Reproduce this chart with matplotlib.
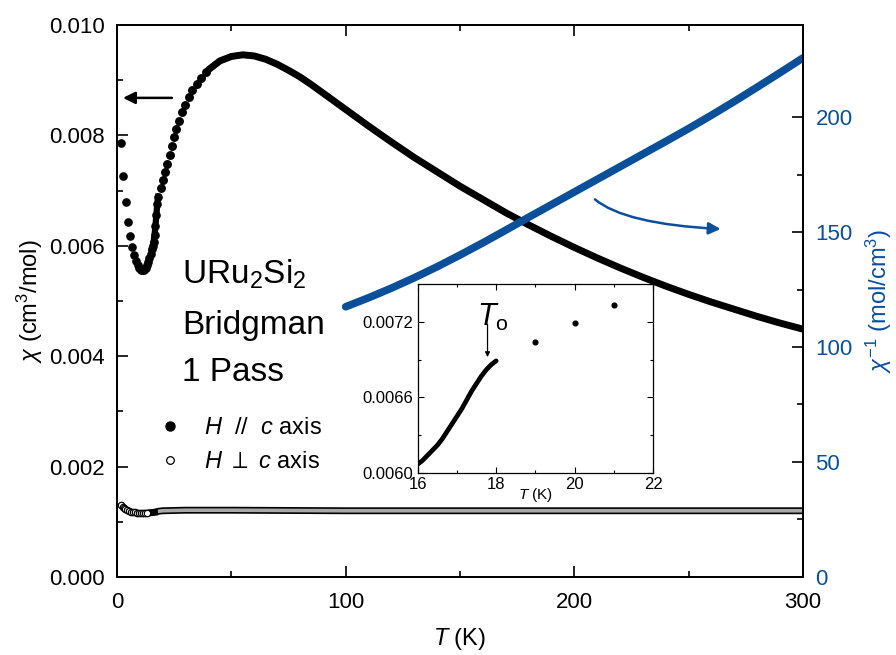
import numpy as np
import matplotlib.pyplot as plt
from matplotlib.lines import Line2D
import matplotlib.patheffects as pe

plt.rcParams['font.family'] = ['Liberation Sans', 'DejaVu Sans']
plt.rcParams['mathtext.fontset'] = 'custom'
plt.rcParams['mathtext.rm'] = 'Liberation Sans'
plt.rcParams['mathtext.it'] = 'Liberation Sans:italic'
plt.rcParams['mathtext.fallback'] = 'stixsans'

BLUE = '#0a4f9a'

# H // c, low temperature points (K, cm3/mol)
T_c_low = [1.8, 2.8, 3.8, 4.8, 5.7, 6.7, 7.6, 8.3, 9.0, 9.7, 10.4, 11.1, 11.8,
           12.5, 13.1, 13.7, 14.2, 14.7, 15.2, 15.6, 16.0, 16.4, 16.8, 17.2,
           17.6, 18.0]
chi_c_low = [0.00787, 0.00727, 0.00679, 0.00644, 0.00618, 0.00598, 0.00583,
             0.00572, 0.00565, 0.00560, 0.00557, 0.00556, 0.00557, 0.00560,
             0.00565, 0.00570, 0.00578, 0.00586, 0.00594, 0.00600, 0.00607,
             0.00619, 0.00636, 0.00655, 0.00676, 0.00689]
# H // c, sparse points above the transition
T_c_mid = [19.1, 20.1, 21.1, 22.0, 23.0, 24.0, 25.0, 26.0, 27.1, 28.4, 29.8,
           31.3, 33.0, 34.8, 36.8, 39.0]
chi_c_mid = [0.00704, 0.00719, 0.00733, 0.00748, 0.00764, 0.00780, 0.00797,
             0.00812, 0.00827, 0.00842, 0.00856, 0.00869, 0.00882, 0.00893,
             0.00904, 0.00914]
# H // c, dense data
T_c_hi = [40, 45, 50, 55, 60, 65, 70, 75, 80, 85, 90, 95, 100, 110, 120, 130,
          140, 150, 160, 170, 180, 190, 200, 210, 220, 230, 240, 250, 260, 270,
          280, 290, 300]
chi_c_hi = [0.00919, 0.00935, 0.00943, 0.00946, 0.00944, 0.00938, 0.00929,
            0.00918, 0.00906, 0.00892, 0.00877, 0.00862, 0.00847, 0.00817,
            0.00788, 0.00760, 0.00734, 0.00708, 0.00684, 0.00660, 0.00638,
            0.00617, 0.00597, 0.00578, 0.00560, 0.00543, 0.00527, 0.00512,
            0.00498, 0.00485, 0.00472, 0.00460, 0.00449]

# inverse susceptibility (mol/cm3)
T_inv = [100, 110, 120, 130, 140, 150, 160, 170, 180, 190, 200, 210, 220, 230,
         240, 250, 260, 270, 280, 290, 300]
chi_inv = [117.5, 121.4, 125.6, 130.1, 134.9, 140.0, 145.3, 150.8, 156.4,
           161.9, 167.4, 172.9, 178.4, 183.9, 189.4, 195.0, 200.8, 206.8,
           213.0, 219.3, 225.7]

# H perp c
T_ab_low = [1.8, 2.4, 3.0, 3.7, 4.4, 5.2, 6.0, 6.9, 7.8, 8.7, 9.6, 10.5, 11.4,
            12.3, 13.2]
chi_ab_low = [0.00130, 0.00127, 0.00125, 0.00123, 0.00121, 0.00120, 0.00118,
              0.00117, 0.00117, 0.00116, 0.00116, 0.00116, 0.00116, 0.00116,
              0.00116]
T_ab_hi = [14, 16, 18, 20, 30, 50, 100, 150, 200, 250, 300]
chi_ab_hi = [0.00116, 0.00117, 0.00119, 0.00120, 0.00121, 0.00121, 0.00120,
             0.00120, 0.00120, 0.00120, 0.00120]

# inset
T_in = [16.0, 16.125, 16.25, 16.375, 16.5, 16.625, 16.75, 16.875, 17.0, 17.125,
        17.25, 17.375, 17.5, 17.625, 17.75, 17.875, 18.0]
chi_in = [0.00607, 0.00610, 0.00614, 0.00618, 0.00622, 0.00627, 0.00633,
          0.00639, 0.00645, 0.00651, 0.00658, 0.00665, 0.00671, 0.00677,
          0.00682, 0.00686, 0.00689]
T_in_pts = [19, 20, 21]
chi_in_pts = [0.00704, 0.00719, 0.00733]

fig = plt.figure(figsize=(8.96, 6.55), dpi=100)
ax = fig.add_axes([0.1306, 0.1191, 0.7656, 0.8427])
ax2 = ax.twinx()

# perpendicular band
ax.plot(T_ab_hi, chi_ab_hi, color='#a8a8a8', lw=2.6, solid_capstyle='round',
        path_effects=[pe.Stroke(linewidth=5.0, foreground='black'), pe.Normal()])
ax.plot([13.0, 16.5], [0.00116, 0.00117], color='black', lw=4.6)
ax.plot(T_ab_low, chi_ab_low, 'o', ms=4.6, mfc='white', mec='black', mew=0.9)

# parallel
ax.plot(T_c_low, chi_c_low, 'o', ms=5.2, color='black')
ax.plot(T_c_low[-8:], chi_c_low[-8:], '-', lw=4.5, color='black')
ax.plot(T_c_mid, chi_c_mid, 'o', ms=5.4, color='black')
ax.plot(T_c_hi, chi_c_hi, '-', lw=5.0, color='black', solid_capstyle='round')

ax2.plot(T_inv, chi_inv, '-', lw=5.5, color=BLUE, solid_capstyle='round')

ax.set_xlim(0, 300)
ax.set_ylim(0, 0.010)
ax2.set_ylim(0, 240)
ax.set_xticks([0, 100, 200, 300])
ax.set_xticks([50, 150, 250], minor=True)
ax.set_yticks(np.arange(0, 0.0101, 0.002))
ax.set_yticks(np.arange(0.001, 0.010, 0.002), minor=True)
ax.set_yticklabels(['0.000', '0.002', '0.004', '0.006', '0.008', '0.010'])
ax2.set_yticks([0, 50, 100, 150, 200])
ax2.set_yticks([25, 75, 125, 175, 225], minor=True)

for a in (ax, ax2):
    for s in a.spines.values():
        s.set_linewidth(1.4)
ax.tick_params(which='both', direction='in', labelsize=16, width=1.2, top=True)
ax.tick_params(which='major', length=8, pad=9)
ax.tick_params(which='minor', length=4.5)
ax.tick_params(axis='x', which='major', pad=11)
ax2.tick_params(which='both', direction='in', labelsize=16, width=1.2,
                labelcolor=BLUE, color='black')
ax2.tick_params(which='major', length=8, pad=9)
ax2.tick_params(which='minor', length=4.5)

ax.set_xlabel('$T$ (K)', fontsize=17, labelpad=9)
ax.set_ylabel(r'$\chi$ (cm$^3$/mol)', fontsize=17, labelpad=3)
ax2.set_ylabel(r'$\chi^{-1}$ (mol/cm$^3$)', fontsize=17, color=BLUE,
               rotation=90, labelpad=8)

ax.text(28.4, 0.00531, 'URu$_2$Si$_2$', fontsize=24, va='baseline')
ax.text(28.4, 0.00441, 'Bridgman', fontsize=24, va='baseline')
ax.text(28.4, 0.00355, '1 Pass', fontsize=24, va='baseline')

ax.legend([Line2D([], [], ls='none', marker='o', ms=6.5, color='black'),
           Line2D([], [], ls='none', marker='o', ms=5.5, mfc='white', mec='black', mew=0.9)],
          ['$H$  //  $c$ axis', r'$H$ $\perp$ $c$ axis'],
          loc='upper left', bbox_to_anchor=(0.0615, 0.289), frameon=False,
          fontsize=17, handlelength=0.9, handletextpad=1.0, labelspacing=0.5,
          borderpad=0, borderaxespad=0)

ax.annotate('', xy=(2.6, 0.00868), xytext=(24, 0.00868),
            arrowprops=dict(arrowstyle='-|>', color='black', lw=1.8,
                            mutation_scale=18, shrinkA=0, shrinkB=0))
ax2.annotate('', xy=(264, 151.3), xytext=(209, 164.2),
             arrowprops=dict(arrowstyle='-|>', color=BLUE, lw=1.8,
                             mutation_scale=18, shrinkA=0, shrinkB=0,
                             connectionstyle='angle3,angleA=-40,angleB=-3'))

# inset
axi = fig.add_axes([0.4662, 0.2779, 0.2626, 0.2885])
axi.plot(T_in, chi_in, '-', lw=3.4, color='black', solid_capstyle='round')
axi.plot(T_in_pts, chi_in_pts, 'o', ms=3.4, color='black')
axi.set_xlim(16, 22)
axi.set_ylim(0.0060, 0.0075)
axi.set_xticks([16, 18, 20, 22])
axi.set_xticks([17, 19, 21], minor=True)
axi.set_yticks([0.0060, 0.0066, 0.0072])
axi.set_yticks([0.0063, 0.0069, 0.0075], minor=True)
axi.set_yticklabels(['0.0060', '0.0066', '0.0072'])
for s in axi.spines.values():
    s.set_linewidth(0.9)
axi.tick_params(which='both', direction='in', top=True, right=True, labelsize=12,
                width=0.8, pad=3)
axi.tick_params(which='major', length=4)
axi.tick_params(which='minor', length=2.5)
axi.set_xlabel('$T$ (K)', fontsize=11)
axi.xaxis.set_label_coords(0.5, -0.07)
axi.text(17.5, 0.00717, '$T_{\\mathrm{o}}$', fontsize=22)
axi.annotate('', xy=(17.78, 0.00692), xytext=(17.78, 0.00718),
             arrowprops=dict(arrowstyle='-|>', color='black', lw=0.9,
                             mutation_scale=7, shrinkA=0, shrinkB=0))

fig.savefig('out.png', dpi=100)
